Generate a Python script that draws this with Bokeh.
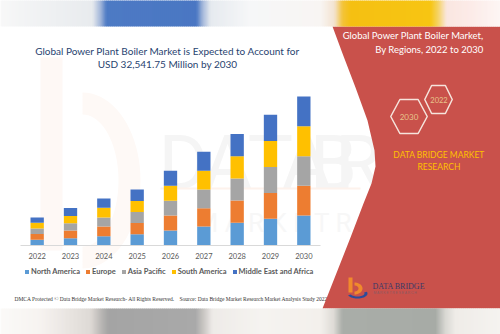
import math
from bokeh.plotting import figure
from bokeh.models import FactorRange, Range1d, Legend, LegendItem, ColumnDataSource
from bokeh.core.properties import value
from bokeh.embed import file_html
from bokeh.resources import INLINE

# ---------------- data (USD million) ----------------
years = ["2022", "2023", "2024", "2025", "2026", "2027", "2028", "2029", "2030"]
regions = ["North America", "Europe", "Asia Pacific", "South America", "Middle East and Africa"]
north_america = [1245, 1594, 2031, 2468, 3276, 4150, 4958, 5831, 6548]
europe = [1245, 1682, 2118, 2468, 3276, 3997, 4870, 5613, 6482]
asia_pacific = [1245, 1594, 1966, 2402, 3210, 4084, 4805, 5678, 6482]
south_america = [1245, 1594, 2118, 2402, 3276, 4084, 4870, 5678, 6548]
middle_east_africa = [1160, 1747, 2031, 2468, 3276, 4150, 4870, 5744, 6481.75]
region_colors = ["#5b9bd5", "#ed7d31", "#a5a5a5", "#ffc000", "#4472c4"]
y_max = 36036

# ---------------- canvas geometry (pixels) ----------------
W, H = 500, 334
FL, FR, FT, FB = 20, 320, 80, 245   # chart area in canvas pixels

# value axis mapped so that 0 sits on the baseline and y_max at the chart top
y_lo = -y_max * (H - FB) / (FB - FT)
y_hi = y_max * FB / (FB - FT)

# category axis: year group + one spacer group so the 9 years fill x 20..320
PAD, GROUP_PAD = 0.6, 3.8
cat_factors = [("y", yr) for yr in years] + [("z", "_")]
cat_range = FactorRange(factors=cat_factors, group_padding=GROUP_PAD, factor_padding=0,
                        range_padding=PAD, range_padding_units="absolute")
SPAN = len(cat_factors) + GROUP_PAD + 2 * PAD      # synthetic units across the canvas


def sx(X):
    """canvas pixel x -> synthetic categorical coordinate"""
    return -PAD + X * SPAN / W


p = figure(width=W, height=H, x_range=cat_range, y_range=Range1d(H, 0),
           x_axis_location=None, y_axis_location=None,
           output_backend="svg", toolbar_location=None, min_border=0,
           background_fill_color="white", border_fill_color="white", outline_line_color=None)
p.extra_y_ranges = {"val": Range1d(y_lo, y_hi)}
p.grid.visible = False

F = value


def txt(X, Y, text, size, color, font="Lato", align="left", style="normal",
        baseline="middle", level="overlay", alpha=1.0):
    p.text(x=[sx(X)], y=[Y], text=[text], text_font=F(font), text_font_size=F(f"{size}px"),
           text_color=color, text_align=align, text_baseline=baseline,
           text_font_style=style, text_alpha=alpha, level=level)


def poly(pts, fill=None, line=None, lw=1.0, level="overlay"):
    p.patch([sx(x) for x, _ in pts], [y for _, y in pts],
            fill_color=fill if fill else "white", fill_alpha=1.0 if fill else 0.0,
            line_color=line if line else "white", line_alpha=1.0 if line else 0.0,
            line_width=lw, level=level)


def hexc(c):
    return tuple(int(c[i:i + 2], 16) for i in (1, 3, 5))


def mix(c1, c2, t):
    a, b = hexc(c1), hexc(c2)
    return "#%02x%02x%02x" % tuple(round(a[i] + (b[i] - a[i]) * t) for i in range(3))


def interp(stops, x):
    for (x0, c0), (x1, c1) in zip(stops[:-1], stops[1:]):
        if x0 <= x <= x1:
            return mix(c0, c1, (x - x0) / (x1 - x0) if x1 > x0 else 0)
    return stops[-1][1]


def band(stops, Y0, Y1, step=2):
    lefts = list(range(0, W, step))
    p.quad(left=[sx(x) for x in lefts], right=[sx(min(x + step + 0.5, W)) for x in lefts],
           top=[Y0] * len(lefts), bottom=[Y1] * len(lefts),
           fill_color=[interp(stops, x + step / 2) for x in lefts],
           line_color=None, level="overlay")


def ring(cx, cy, rxo, ryo, rxi, ryi, a0, a1, n=40):
    outer = [(cx + rxo * math.cos(math.radians(a0 + (a1 - a0) * i / n)),
              cy - ryo * math.sin(math.radians(a0 + (a1 - a0) * i / n))) for i in range(n + 1)]
    inner = [(cx + rxi * math.cos(math.radians(a0 + (a1 - a0) * i / n)),
              cy - ryi * math.sin(math.radians(a0 + (a1 - a0) * i / n))) for i in range(n, -1, -1)]
    return outer + inner


# ---------------- faint watermark (behind bars) ----------------
poly([(40, 57), (62, 57), (62, 250), (40, 250)], fill="#fef8f5", level="underlay")
poly(ring(82, 180, 58, 88, 36, 66, -90, 90), fill="#fef9f6", level="underlay")
for ch, cx in zip("DATABR", [183, 227, 270, 306, 333, 358]):
    txt(cx, 162, ch, 76, "#f5f5f5", font="Roboto", align="center", baseline="alphabetic", level="underlay")
txt(195, 222, "M    A    R    K    E    T          R    E    S", 26, "#f7f7f7", font="Roboto",
    level="underlay")
poly([(160, 187), (360, 187), (360, 189), (160, 189)], fill="#fdf2ec", level="underlay")

# ---------------- bars ----------------
keys = ["north_america", "europe", "asia_pacific", "south_america", "middle_east_africa"]
src = ColumnDataSource(dict(year=[("y", yr) for yr in years], north_america=north_america,
                            europe=europe, asia_pacific=asia_pacific, south_america=south_america,
                            middle_east_africa=middle_east_africa))
rends = p.vbar_stack(keys, x="year", width=0.4, fill_color=region_colors, line_color=None,
                     source=src, y_range_name="val")

# baseline + year labels
p.line(x=[sx(FL), sx(FR)], y=[FB, FB], line_color="#d9d9d9", line_width=1)
p.text(x=[("y", yr) for yr in years], y=[255.5] * len(years), text=years,
       text_font=F("Lato"), text_font_size=F("7.5px"), text_color="#595959",
       text_align="center", text_baseline="middle")

legend = Legend(items=[LegendItem(label=r, renderers=[rr]) for r, rr in zip(regions, rends)],
                orientation="horizontal", location=(24, H - 276),
                glyph_width=5, glyph_height=5, label_standoff=2, spacing=5,
                label_height=6, label_width=5, padding=0, margin=0,
                border_line_alpha=0, background_fill_alpha=0,
                label_text_font="Lato", label_text_font_style="bold",
                label_text_font_size="7.5px", label_text_color="#595959")
p.add_layout(legend)

# ---------------- titles / footer ----------------
txt(167, 50, "Global Power Plant Boiler Market is Expected to Account for", 10, "#28436f", align="center")
txt(167, 63.5, "USD 32,541.75 Million by 2030", 10, "#28436f", align="center")
txt(14, 298, "DMCA Protected \u00a9 Data Bridge Market Research- All Rights Reserved.", 5.5, "#333333",
    font="Liberation Serif")
txt(179, 298, "Source: Data Bridge Market Research Market Analysis Study 2022", 5.5, "#333333",
    font="Liberation Serif")

# ---------------- right red panel ----------------
red_pts = [(332, 26), (500, 26), (500, 308), (322, 308), (337, 270), (350, 237), (363, 203),
           (371, 183), (375, 166), (374, 150), (367, 120), (355, 87), (342, 53)]
poly(red_pts, fill="#c9514b")
txt(483, 35, "Global Power Plant Boiler Market,", 9.5, "white", align="right")
txt(483, 49, "By Regions, 2022 to 2030", 9.5, "white", align="right")


def hexagon(cx, cy, w, h):
    return [(cx - w / 2, cy), (cx - w / 4, cy - h / 2), (cx + w / 4, cy - h / 2),
            (cx + w / 2, cy), (cx + w / 4, cy + h / 2), (cx - w / 4, cy + h / 2), (cx - w / 2, cy)]


poly(hexagon(438, 99, 27.5, 28), line="#f6e4dc", lw=1.5)
poly(hexagon(408.5, 116, 36.5, 34), line="#f6e4dc", lw=1.5)
txt(438.5, 99, "2022", 7.5, "#e8c48c", align="center")
txt(408.5, 116.5, "2030", 8, "#e8c48c", align="center")
txt(438.5, 154, "DATA BRIDGE MARKET", 8.5, "#ffc000", align="center")
txt(438.5, 166, "RESEARCH", 8.5, "#ffc000", align="center")

# logo
poly([(348, 277), (352, 277), (352, 292), (348, 292)], fill="#f08a2c")
poly(ring(354, 288, 8, 6, 4, 3, -90, 90), fill="#f08a2c")
poly(ring(357, 293, 10, 5, 7, 3, 200, 380), fill="#2b4c9b")
txt(372, 285.5, "DATA BRIDGE", 8, "#3b3a68", font="Liberation Serif")
txt(373, 292.5, "M A R K E T   R E S E A R C H", 3.3, "#8a5a62", font="Liberation Sans")

# ---------------- blurred top / bottom bands ----------------
top_stops = [(0, "#f8f8f8"), (20, "#f3f4f5"), (92, "#e8ebee"), (100, "#a2b6d9"), (106, "#4d7ac4"),
             (196, "#4a77c3"), (202, "#a3b7da"), (210, "#e6eaef"), (250, "#f6f7f8"), (320, "#f8f5f3"),
             (334, "#f3e3d0"), (342, "#f3c33a"), (350, "#f5c012"), (430, "#f7c512"), (438, "#f5d46a"),
             (446, "#fae6e0"), (470, "#fcebe8"), (500, "#fdf6f4")]
bot_stops = [(0, "#fbfaf8"), (40, "#f6f3f0"), (90, "#ded9d5"), (102, "#b5b3b1"), (108, "#a4a4a4"),
             (195, "#a9a9a9"), (203, "#c9c6c3"), (212, "#eeebe8"), (260, "#f5f3f0"), (320, "#f3f0ec"),
             (333, "#dedbd6"), (342, "#a9ada8"), (435, "#a7aba6"), (445, "#d9d8d3"), (455, "#efece8"),
             (500, "#f5f3f0")]
band(top_stops, 0, 26)
band(bot_stops, 308, 334)

open("out.html", "w").write(file_html(p, INLINE))
